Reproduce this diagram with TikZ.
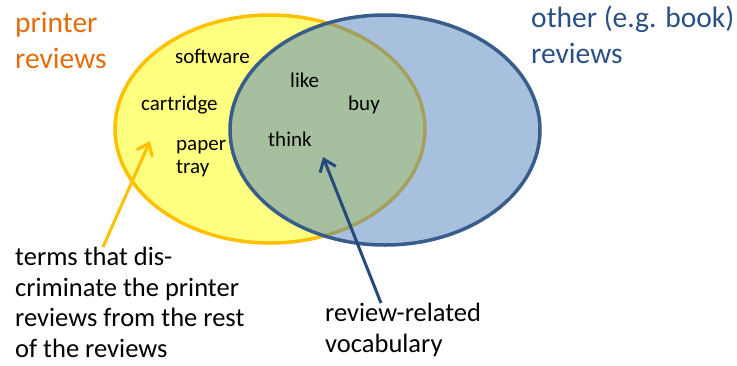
\documentclass[tikz,border=0pt]{standalone}
\usepackage{fontspec}
\setmainfont{Carlito}
\usetikzlibrary{arrows.meta, positioning, shapes.geometric}
\definecolor{Set_Yellow}{HTML}{FFFF80}
\definecolor{Set_Gold}{HTML}{FFC000}
\definecolor{Set_Blue}{HTML}{4F81BD}
\definecolor{Set_Navy}{HTML}{385D8A}
\definecolor{Arrow_Navy}{HTML}{254A7C}
\definecolor{Title_Orange}{HTML}{E46C0A}
\definecolor{Title_Blue}{HTML}{2A5085}

\begin{document}
\begin{tikzpicture}[x=1pt, y=-1pt,
    set/.style={ellipse, minimum width=310, minimum height=228, line width=3.5pt, inner sep=0, outer sep=0},
    title/.style={font=\fontsize{29.5}{36}\selectfont, align=left, anchor=base west, inner sep=0},
    term/.style={font=\fontsize{21}{23}\selectfont, align=left, anchor=base west, inner sep=0},
    caption/.style={font=\fontsize{26.5}{30.5}\selectfont, align=left, anchor=base west, inner sep=0},
    pointer/.style={-{Straight Barb[length=11pt, width=17pt]}, line width=3pt}
]
\useasboundingbox (0,0) rectangle (737,365);

% Sets
\node[set, draw=Set_Gold, fill=Set_Yellow] (printer) at (270,129) {};
\node[set, draw=Set_Navy, fill=Set_Blue, fill opacity=0.5, minimum height=230] (other) at (385,130) {};

% Titles (placed by the baseline of the last line)
\node[title, text=Title_Orange] (printerTitle) at (15,68) {printer\\reviews};
\node[title, text=Title_Blue] (otherTitle) at (531,63) {other (e.g. book)\\reviews};

% Terms
\node[term] (software) at (175,63) {software};
\node[term] (cartridge) at (141,110) {cartridge};
\node[term] (paperTray) at (176,173) {paper\\tray};
\node[term] (like) at (290,87) {like};
\node[term] (buy) at (348,110) {buy};
\node[term] (think) at (268,146) {think};

% Captions
\node[caption] (discrText) at (15,357) {terms that dis-\\criminate the printer\\reviews from the rest\\of the reviews};
\node[caption] (vocabText) at (325,352) {review-related\\vocabulary};

% Pointers
\coordinate (discrTail) at (103,247);
\coordinate (discrTip) at (150,141);
\coordinate (vocabTail) at (381,303);
\coordinate (vocabTip) at (323,157);
\draw[pointer, Set_Gold] (discrTail) -- (discrTip);
\draw[pointer, Arrow_Navy] (vocabTail) -- (vocabTip);

\end{tikzpicture}
\end{document}
